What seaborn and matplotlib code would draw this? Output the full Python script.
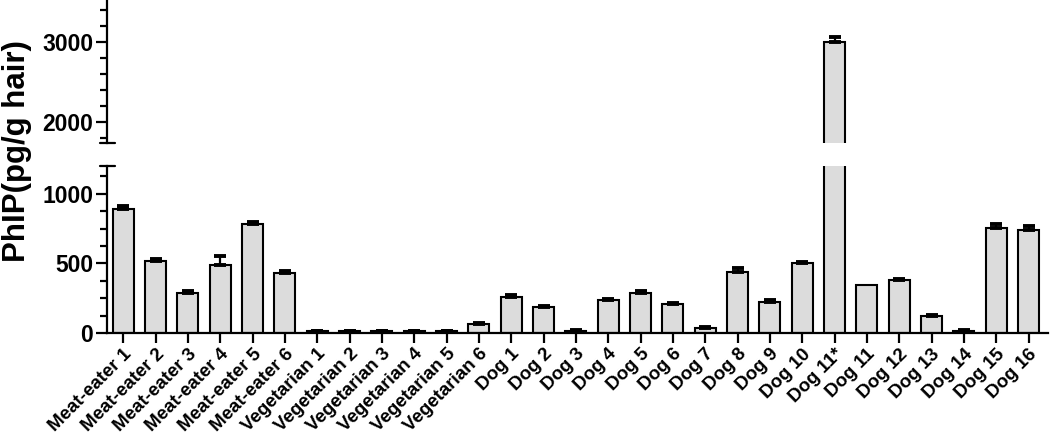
import numpy as np
import pandas as pd
from matplotlib import pyplot as plt
from matplotlib.ticker import FixedLocator
import seaborn as sns

# 読み取った値
samples = ["Meat-eater 1", "Meat-eater 2", "Meat-eater 3", "Meat-eater 4", "Meat-eater 5", "Meat-eater 6",
           "Vegetarian 1", "Vegetarian 2", "Vegetarian 3", "Vegetarian 4", "Vegetarian 5", "Vegetarian 6",
           "Dog 1", "Dog 2", "Dog 3", "Dog 4", "Dog 5", "Dog 6", "Dog 7", "Dog 8", "Dog 9", "Dog 10",
           "Dog 11*", "Dog 11", "Dog 12", "Dog 13", "Dog 14", "Dog 15", "Dog 16"]
phip = [888, 518, 287, 487, 786, 428,
        12, 12, 12, 12, 12, 63,
        262, 185, 15, 237, 290, 207, 33, 437, 226, 500,
        3008, 345, 378, 122, 14, 755, 740]
sem = [22, 14, 12, 70, 12, 15,
       4, 4, 4, 4, 4, 10,
       10, 6, 8, 8, 14, 6, 7, 28, 12, 8,
       50, 0, 10, 6, 8, 30, 28]

df = pd.DataFrame({"sample": samples, "phip": phip, "sem": sem})

sns.set_style("ticks")
plt.rcParams["font.family"] = ["Liberation Sans", "DejaVu Sans"]
plt.rcParams["font.weight"] = "bold"
for k in ["text.color", "axes.labelcolor", "xtick.color", "ytick.color", "axes.edgecolor"]:
    plt.rcParams[k] = "black"

fig = plt.figure(figsize=(10.5, 4.37), dpi=100)
ax_hi = fig.add_axes([0.102, 0.673, 0.896, 0.327])
ax_lo = fig.add_axes([0.102, 0.238, 0.896, 0.382])

lw = 1.6
for ax in (ax_hi, ax_lo):
    sns.barplot(data=df, x="sample", y="phip", ax=ax, color="#dcdcdc", saturation=1,
                edgecolor="black", linewidth=1.5, width=0.65, errorbar=None)
    has_err = df["sem"] > 0
    xs = np.arange(len(df))[has_err]
    ax.errorbar(xs, df["phip"][has_err], yerr=[np.zeros(has_err.sum()), df["sem"][has_err]],
                fmt="none", ecolor="black", elinewidth=1.6, capsize=4.6, capthick=2.8)
    ax.set_xlim(-0.5, 28.6)
    ax.set_xlabel("")
    ax.set_ylabel("")
    sns.despine(ax=ax)
    ax.spines["left"].set_linewidth(lw)
    ax.spines["bottom"].set_linewidth(lw)
    ax.tick_params(axis="y", which="major", length=8, width=lw, labelsize=16.5, pad=2)
    ax.tick_params(axis="y", which="minor", length=5, width=lw)

# 上段
ax_hi.set_ylim(1745, 3525)
ax_hi.yaxis.set_major_locator(FixedLocator([2000, 3000]))
ax_hi.yaxis.set_minor_locator(FixedLocator([1800, 2200, 2400, 2600, 2800, 3200, 3400]))
ax_hi.spines["bottom"].set_visible(False)
ax_hi.tick_params(axis="x", bottom=False, labelbottom=False)

# 下段
ax_lo.set_ylim(0, 1200)
ax_lo.yaxis.set_major_locator(FixedLocator([0, 500, 1000]))
ax_lo.yaxis.set_minor_locator(FixedLocator([125, 250, 375, 625, 750, 875, 1125]))
ax_lo.tick_params(axis="x", length=7, width=lw, pad=2)
plt.setp(ax_lo.get_xticklabels(), rotation=45, ha="right", rotation_mode="anchor",
         fontsize=13.5, fontweight="bold")
for t in ax_lo.get_yticklabels() + ax_hi.get_yticklabels():
    t.set_fontweight("bold")

# 軸の切れ目
ax_lo.plot([-0.008, 0.008], [1, 1], transform=ax_lo.transAxes, color="black", lw=lw, clip_on=False)
ax_hi.plot([-0.008, 0.008], [0, 0], transform=ax_hi.transAxes, color="black", lw=lw, clip_on=False)

fig.text(0.002, 0.655, "PhIP(pg/g hair)", rotation=90, ha="left", va="center",
         fontsize=22.5, fontweight="bold")

plt.savefig("out.png", dpi=100)
